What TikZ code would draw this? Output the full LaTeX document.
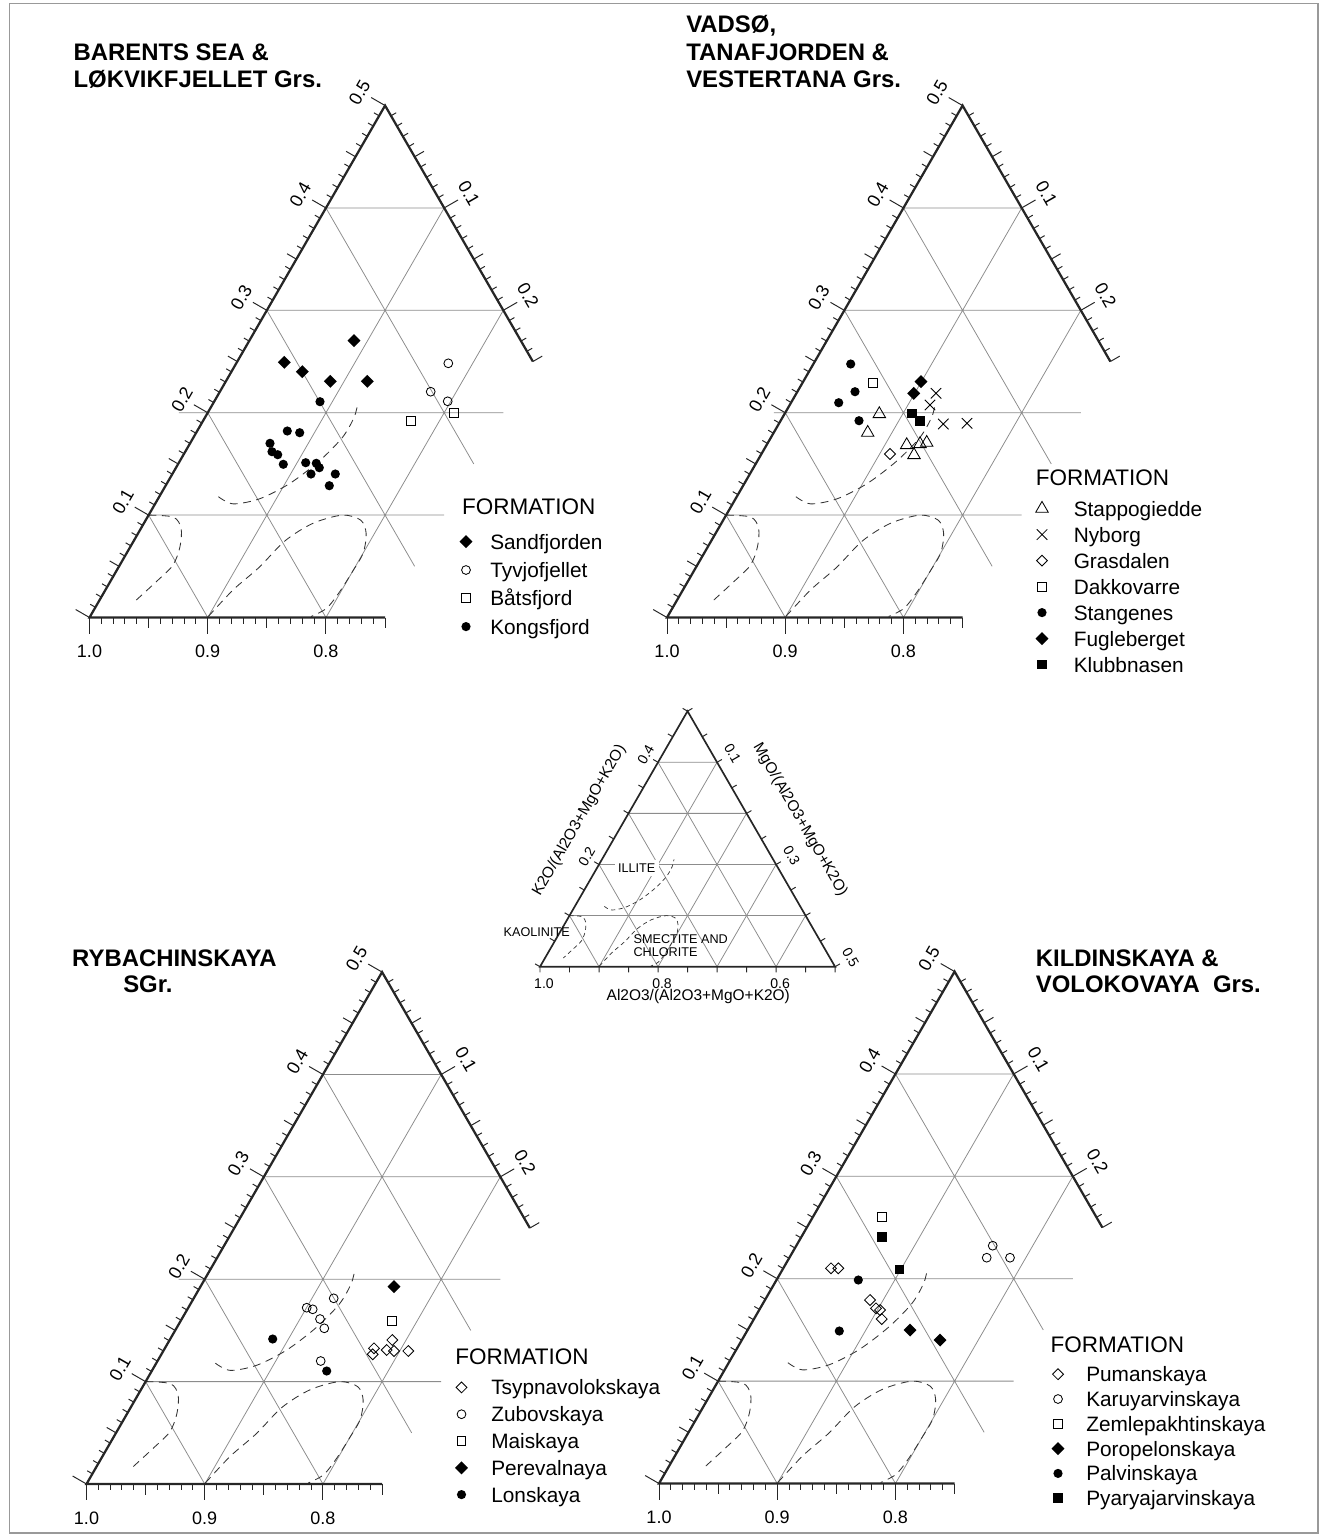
\documentclass[tikz,border=0pt]{standalone}
\usepackage{fontspec}
\setmainfont{Liberation Sans}
\usetikzlibrary{shapes.geometric, shapes.misc, calc}

\newcommand{\claycurves}{%
  \draw[field] plot[smooth] coordinates {(0,0.1) (0.022,0.098) (0.034,0.087) (0.042,0.069) (0.045,0.051) (0.039,0.035) (0.031,0.017)};
  \draw[field] plot[smooth] coordinates {(0.050,0.118) (0.066,0.111) (0.086,0.116) (0.104,0.131) (0.118,0.153) (0.126,0.176) (0.126,0.196) (0.122,0.210)};
  \draw[field] plot[smooth] coordinates {(0.100,0.001) (0.108,0.027) (0.119,0.049) (0.128,0.075) (0.143,0.092) (0.164,0.100) (0.182,0.095) (0.193,0.082) (0.200,0.063) (0.200,0.045) (0.199,0.025) (0.196,0.009) (0.187,0.001)};
}

\newcommand{\ternpanel}[4]{%
  \begin{scope}[shift={(#1,#2)}, x={(29.55cm,0cm)}, y={(14.775cm,25.591cm)},
      field/.style={dash pattern=on 5.5pt off 4pt, line width=0.6pt, black!80}]
    \draw[gridln] (0,0.1) -- (0.25,0.1) (#4,0.2) -- (0.25,0.2) (0,0.3) -- (0.2,0.3) (0,0.4) -- (0.1,0.4)
      (0.1,0) -- (0.1,0.4) (0.2,0) -- (0.2,0.3)
      (0,0.1) -- (0.1,0) (0,0.2) -- (0.2,0) (0,0.3) -- (0.25,0.05) (0,0.4) -- (0.25,0.15);
    \claycurves
    \draw[axisln] (0.25,0.25) -- (0,0.5) -- (0,0) -- (0.25,0);
    \foreach \i in {0,...,50} {
      \pgfmathsetmacro\tlen{ifthenelse(mod(\i,10)==0,0.4,ifthenelse(mod(\i,5)==0,0.27,0.15))}
      \draw[tickln] (0,\i/100) -- ++(150:\tlen cm);
    }
    \foreach \j in {0,...,25} {
      \pgfmathsetmacro\tlen{ifthenelse(mod(\j,10)==0,0.4,ifthenelse(mod(\j,5)==0,0.27,0.15))}
      \draw[tickln] (\j/100,0) -- ++(270:\tlen cm);
    }
    \foreach \j in {1,...,25} {
      \pgfmathsetmacro\tlen{ifthenelse(mod(\j,10)==0,0.4,ifthenelse(mod(\j,5)==0,0.27,0.15))}
      \draw[tickln] (\j/100,0.5-\j/100) -- ++(30:\tlen cm);
    }
    \foreach \v in {1,...,5}
      \node[tlbl, rotate=60] (#3l\v) at ($(0,\v/10)+(153:0.72cm)$) {0.\v};
    \foreach \v in {1,2}
      \node[tlbl, rotate=-60] (#3r\v) at ($(\v/10,0.5-\v/10)+(31:0.72cm)$) {0.\v};
    \foreach \m/\t [count=\c] in {0/1.0,0.1/0.9,0.2/0.8}
      \node[tlbl] (#3b\c) at ($(\m,0)+(0,-0.855cm)$) {\t};
  \end{scope}}

\begin{document}
\begin{tikzpicture}[x=0.025cm, y=-0.025cm,
  gridln/.style={draw=gray!90, line width=0.55pt},
  axisln/.style={draw=black!85, line width=1.6pt},
  tickln/.style={draw=black!85, line width=0.7pt},
  tlbl/.style={font=\fontsize{12.8}{14}\selectfont, inner sep=0pt},
  slbl/.style={font=\fontsize{10}{11}\selectfont, inner sep=0pt},
  stitle/.style={font=\fontsize{11}{12}\selectfont, inner sep=0pt},
  clay/.style={font=\fontsize{9}{10}\selectfont, inner sep=0pt},
  ttl/.style={anchor=base west, font=\fontsize{17}{19}\selectfont\bfseries, inner sep=0pt},
  lhead/.style={anchor=base west, font=\fontsize{16}{18}\selectfont, inner sep=0pt},
  lent/.style={anchor=base west, font=\fontsize{14.8}{16}\selectfont, inner sep=0pt},
  fdia/.style={diamond, fill=black, inner sep=0pt, minimum size=0.33cm},
  odia/.style={diamond, draw=black, line width=0.6pt, inner sep=0pt, minimum size=0.28cm},
  fdot/.style={circle, fill=black, inner sep=0pt, minimum size=0.23cm},
  odot/.style={circle, draw=black, line width=0.6pt, inner sep=0pt, minimum size=0.22cm},
  osq/.style={rectangle, draw=black, line width=0.6pt, inner sep=0pt, minimum size=0.22cm},
  fsq/.style={rectangle, fill=black, inner sep=0pt, minimum size=0.24cm},
  otri/.style={regular polygon, regular polygon sides=3, draw=black, line width=0.6pt, inner sep=0pt, minimum size=0.36cm},
  xmark/.style={cross out, draw=black, line width=0.6pt, inner sep=0pt, minimum size=0.24cm}
]
\useasboundingbox (0,0) rectangle (1329,1539);
\draw[gray!80, line width=0.8pt] (9.3,3.3) rectangle (1318,1533);

\ternpanel{89.5}{617.5}{p}{-0.0245}
\ternpanel{667}{617.5}{q}{-0.0095}
\ternpanel{86.5}{1484}{r}{-0.022}
\ternpanel{659}{1483.5}{s}{0}

\begin{scope}[shift={(540,966.7)}, x={(14.75cm,0cm)}, y={(7.375cm,12.774cm)},
    field/.style={dash pattern=on 3pt off 2.4pt, line width=0.5pt, black!80}]
  \foreach \c in {0.1,0.2,0.3,0.4}
    \draw[gridln] (0,\c) -- (0.5-\c,\c) (\c,0) -- (\c,0.5-\c) (0,\c) -- (\c,0);
  \claycurves
  \draw[axisln, line width=1.2pt] (0,0) -- (0.5,0) -- (0,0.5) -- cycle;
  \foreach \i in {0,...,10}
    \draw[tickln] (0,\i/20) -- ++(150:0.14cm) (\i/20,0) -- ++(270:0.14cm) (\i/20,0.5-\i/20) -- ++(30:0.14cm);
  \foreach \v in {2,4}
    \node[slbl, rotate=60] (kl\v) at ($(0,\v/10)+(148:0.36cm)$) {0.\v};
  \foreach \v in {1,3,5}
    \node[slbl, rotate=-60] (ml\v) at ($(\v/10,0.5-\v/10)+(30:0.45cm)$) {0.\v};
  \foreach \m/\t [count=\c] in {0/1.0,0.2/0.8,0.4/0.6}
    \node[slbl] (al\c) at ($(\m,0)+(0.1cm,-0.42cm)$) {\t};
\end{scope}
\node[clay, fill=white, inner sep=2.5pt] (ill) at (636.7,868.3) {ILLITE};
\node[clay] (kao) at (536.7,932.3) {KAOLINITE};
\node[clay, anchor=base west] (sme1) at (633.3,943.8) {SMECTITE AND};
\node[clay, anchor=base west] (sme2) at (633.3,956.8) {CHLORITE};
\node[stitle, rotate=60] (ktit) at (579.5,820.5) {K2O/(Al2O3+MgO+K2O)};
\node[stitle, rotate=-60] (mtit) at (800,820) {MgO/(Al2O3+MgO+K2O)};
\node[stitle] (atit) at (698.3,996.7) {Al2O3/(Al2O3+MgO+K2O)};

\node[ttl] (t1a) at (73.3,60) {BARENTS SEA \&};
\node[ttl] (t1b) at (73.3,87.3) {LØKVIKFJELLET Grs.};
\node[ttl] (t2a) at (686,32.5) {VADSØ,};
\node[ttl] (t2b) at (686,60) {TANAFJORDEN \&};
\node[ttl] (t2c) at (686,87.3) {VESTERTANA Grs.};
\node[ttl] (t3a) at (71.9,966) {RYBACHINSKAYA};
\node[ttl] (t3b) at (123,992.5) {SGr.};
\node[ttl] (t4a) at (1035.6,966) {KILDINSKAYA \&};
\node[ttl] (t4b) at (1035.6,992.5) {VOLOKOVAYA\ \ Grs.};

\foreach \px/\py [count=\k] in {354/340.7, 284.3/362.3, 302.3/371.7, 330.3/381.3, 367.3/381.3}
  \node[fdia] (sand\k) at (\px,\py) {};
\foreach \px/\py [count=\k] in {448.3/363.3, 430.7/391.7, 447.7/401.3}
  \node[odot] (tyvj\k) at (\px,\py) {};
\foreach \px/\py [count=\k] in {410.7/420.7, 454/412.7}
  \node[osq] (bats\k) at (\px,\py) {};
\foreach \px/\py [count=\k] in {320/401.7, 287.3/431, 299.7/432.7, 270/443.3, 272/451.7, 277.7/454.7, 283.3/464.3, 305.7/462.7, 316.3/463.3, 319.3/467.7, 311/474, 335.3/474, 329.3/485.7}
  \node[fdot] (kong\k) at (\px,\py) {};

\foreach \px/\py [count=\k] in {879.3/414, 867.7/432.7, 906.7/445, 920/444, 926.7/442.7, 914/455}
  \node[otri] (stap\k) at (\px,\py) {};
\foreach \px/\py [count=\k] in {936/393.3, 930/405, 943.3/424, 967/423.3}
  \node[xmark] (nyb\k) at (\px,\py) {};
\node[odia] (gras1) at (890,454) {};
\node[osq] (dakk1) at (872.7,382.7) {};
\foreach \px/\py [count=\k] in {850.7/364, 855/391.7, 838.7/402.7, 859/420.7}
  \node[fdot] (stan\k) at (\px,\py) {};
\foreach \px/\py [count=\k] in {921/381.7, 913.7/393.3}
  \node[fdia] (fugl\k) at (\px,\py) {};
\foreach \px/\py [count=\k] in {911.7/413.3, 920/421}
  \node[fsq] (klub\k) at (\px,\py) {};

\foreach \px/\py [count=\k] in {374/1348.3, 372.7/1354.3, 386.7/1350, 392.3/1340, 394/1351, 408.3/1351}
  \node[odia] (tsyp\k) at (\px,\py) {};
\foreach \px/\py [count=\k] in {333.7/1298.3, 306.7/1307.7, 312.7/1309.3, 320/1319, 324.3/1328.3, 320.7/1361}
  \node[odot] (zubo\k) at (\px,\py) {};
\node[osq] (mais1) at (391.7,1320.7) {};
\node[fdia] (pere1) at (394,1286.7) {};
\foreach \px/\py [count=\k] in {272.7/1339, 326.7/1371}
  \node[fdot] (lons\k) at (\px,\py) {};

\foreach \px/\py [count=\k] in {831/1268.3, 838.3/1268.3, 870/1300, 876/1308.3, 880/1310, 881.7/1319}
  \node[odia] (puma\k) at (\px,\py) {};
\foreach \px/\py [count=\k] in {992.7/1245.7, 986.7/1257.7, 1010/1257.7}
  \node[odot] (karu\k) at (\px,\py) {};
\node[osq] (zeml1) at (882,1216.7) {};
\foreach \px/\py [count=\k] in {910/1330, 940/1340}
  \node[fdia] (poro\k) at (\px,\py) {};
\foreach \px/\py [count=\k] in {858.3/1280, 839.3/1331}
  \node[fdot] (palv\k) at (\px,\py) {};
\foreach \px/\py [count=\k] in {882/1236.7, 899.3/1269.3}
  \node[fsq] (pyar\k) at (\px,\py) {};

\node[lhead] (f1) at (461.8,514) {FORMATION};
\foreach \s/\t [count=\k] in {fdia/Sandfjorden, odot/Tyvjofjellet, osq/Båtsfjord, fdot/Kongsfjord} {
  \node[\s] (ls1\k) at (466,{541.7+28.3*(\k-1)}) {};
  \node[lent] (lt1\k) at (490,{549.2+28.3*(\k-1)}) {\t};
}
\node[lhead] (f2) at (1035.6,485) {FORMATION};
\foreach \s/\t [count=\k] in {otri/Stappogiedde, xmark/Nyborg, odia/Grasdalen, osq/Dakkovarre, fdot/Stangenes, fdia/Fugleberget, fsq/Klubbnasen} {
  \node[\s] (ls2\k) at (1042,{508.6+26*(\k-1)}) {};
  \node[lent] (lt2\k) at (1073.5,{516.1+26*(\k-1)}) {\t};
}
\node[lhead] (f3) at (455,1364.5) {FORMATION};
\foreach \s/\t [count=\k] in {odia/Tsypnavolokskaya, odot/Zubovskaya, osq/Maiskaya, fdia/Perevalnaya, fdot/Lonskaya} {
  \node[\s] (ls3\k) at (461.5,{1387.4+26.8*(\k-1)}) {};
  \node[lent] (lt3\k) at (491,{1394.9+26.8*(\k-1)}) {\t};
}
\node[lhead] (f4) at (1050.4,1352) {FORMATION};
\foreach \s/\t [count=\k] in {odia/Pumanskaya, odot/Karuyarvinskaya, osq/Zemlepakhtinskaya, fdia/Poropelonskaya, fdot/Palvinskaya, fsq/Pyaryajarvinskaya} {
  \node[\s] (ls4\k) at (1058,{1374.2+24.8*(\k-1)}) {};
  \node[lent] (lt4\k) at (1086,{1381.7+24.8*(\k-1)}) {\t};
}
\end{tikzpicture}
\end{document}
